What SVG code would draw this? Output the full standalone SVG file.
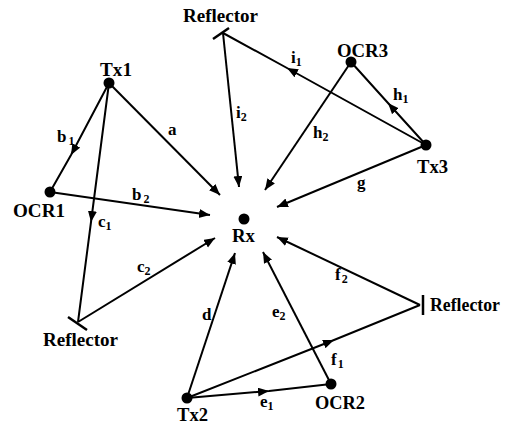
<svg xmlns="http://www.w3.org/2000/svg" width="515" height="425" viewBox="0 0 515 425">
<defs>
<style>
.e{fill:none;stroke:#000;stroke-width:2}
.end{marker-end:url(#ah)}
.mid{marker-mid:url(#ah)}
.bar{stroke:#000;stroke-width:2.5}
.dot{fill:#000}
.n{font-family:"Liberation Serif","Times New Roman",serif;font-weight:bold;font-size:18px;fill:#000}
.l{font-family:"Liberation Serif","Times New Roman",serif;font-weight:bold;font-size:17px;fill:#000}
.s{font-size:12px}
</style>
<marker id="ah" markerUnits="userSpaceOnUse" markerWidth="12" markerHeight="10" refX="11" refY="4.5" orient="auto">
<path d="M0,0 L11,4.5 L0,9 z" fill="#000"/>
</marker>
</defs>
<rect width="515" height="425" fill="#fff"/>
<g id="connectors">
<path class="e end" d="M109,83 L220,195"/>
<path class="e mid" d="M109,83 L71,155 L50,192"/>
<path class="e end" d="M50,192 L210,215"/>
<path class="e mid" d="M109,83 L91,222 L78,322"/>
<path class="e end" d="M78,322 L215,238"/>
<path class="e end" d="M187,398 L235,253"/>
<path class="e mid" d="M187,398 L269,391 L331,384"/>
<path class="e end" d="M331,384 L263,252"/>
<path class="e mid" d="M187,398 L334,340 L420,305"/>
<path class="e end" d="M420,305 L277,237"/>
<path class="e end" d="M426,145 L277,207"/>
<path class="e mid" d="M426,145 L388,103 L351,62"/>
<path class="e end" d="M351,62 L265,190"/>
<path class="e mid" d="M426,145 L287,68 L223,33"/>
<path class="e end" d="M223,33 L239,187"/>
</g>
<g id="Tx1"><circle class="dot" cx="109" cy="83" r="5.5"/><text class="n" x="116" y="76" text-anchor="middle" textLength="32" lengthAdjust="spacingAndGlyphs">Tx1</text></g>
<g id="OCR1"><circle class="dot" cx="50" cy="192" r="5.5"/><text class="n" x="13" y="217" textLength="52" lengthAdjust="spacingAndGlyphs">OCR1</text></g>
<g id="Rx"><circle class="dot" cx="244" cy="219" r="5.5"/><text class="n" x="232" y="242" textLength="23" lengthAdjust="spacingAndGlyphs">Rx</text></g>
<g id="ReflectorTop"><line class="bar" x1="213" y1="39" x2="229" y2="28"/><text class="n" x="183" y="22" textLength="75" lengthAdjust="spacingAndGlyphs">Reflector</text></g>
<g id="OCR3"><circle class="dot" cx="351" cy="62" r="5.5"/><text class="n" x="337" y="57" textLength="51" lengthAdjust="spacingAndGlyphs">OCR3</text></g>
<g id="Tx3"><circle class="dot" cx="426" cy="145" r="5.5"/><text class="n" x="417" y="173" textLength="31" lengthAdjust="spacingAndGlyphs">Tx3</text></g>
<g id="ReflectorLeft"><line class="bar" x1="68" y1="317" x2="87" y2="330"/><text class="n" x="43" y="346" textLength="75" lengthAdjust="spacingAndGlyphs">Reflector</text></g>
<g id="Tx2"><circle class="dot" cx="187" cy="398" r="5.5"/><text class="n" x="177" y="421" textLength="31" lengthAdjust="spacingAndGlyphs">Tx2</text></g>
<g id="OCR2"><circle class="dot" cx="331" cy="384" r="5.5"/><text class="n" x="315" y="409" textLength="50" lengthAdjust="spacingAndGlyphs">OCR2</text></g>
<g id="ReflectorRight"><line class="bar" x1="423" y1="295" x2="423" y2="315"/><text class="n" x="430" y="311" textLength="70" lengthAdjust="spacingAndGlyphs">Reflector</text></g>
<g id="labels">
<text class="l" x="168" y="135">a</text>
<text class="l" x="57" y="142">b<tspan class="s" dx="2" dy="3">1</tspan></text>
<text class="l" x="132" y="200">b<tspan class="s" dx="2" dy="3">2</tspan></text>
<text class="l" x="98" y="227">c<tspan class="s" dy="3">1</tspan></text>
<text class="l" x="137" y="272">c<tspan class="s" dy="3">2</tspan></text>
<text class="l" x="202" y="320">d</text>
<text class="l" x="260" y="407">e<tspan class="s" dy="3">1</tspan></text>
<text class="l" x="272" y="317">e<tspan class="s" dy="3">2</tspan></text>
<text class="l" x="331" y="365">f<tspan class="s" dx="1" dy="3">1</tspan></text>
<text class="l" x="335" y="280">f<tspan class="s" dx="1" dy="3">2</tspan></text>
<text class="l" x="357" y="188">g</text>
<text class="l" x="393" y="100">h<tspan class="s" dy="3">1</tspan></text>
<text class="l" x="313" y="138">h<tspan class="s" dy="3">2</tspan></text>
<text class="l" x="291" y="63">i<tspan class="s" dy="3">1</tspan></text>
<text class="l" x="236" y="118">i<tspan class="s" dy="3">2</tspan></text>
</g>
</svg>
